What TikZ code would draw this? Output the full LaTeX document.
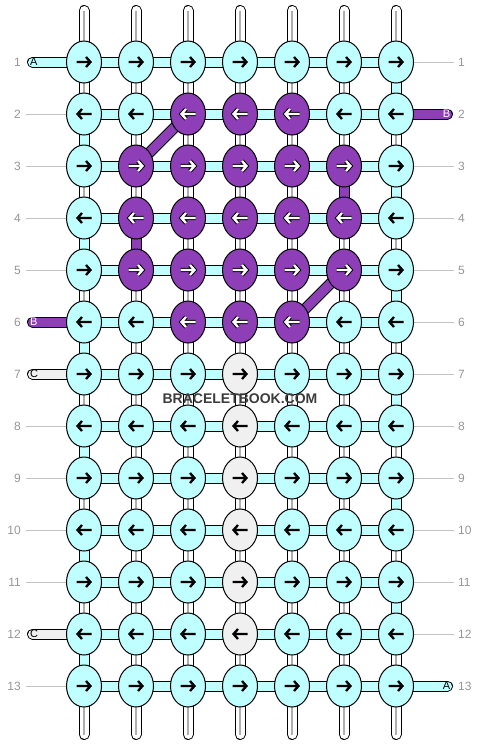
\documentclass[tikz,border=0pt]{standalone}
\usepackage{fontspec}
\setmainfont{Liberation Sans}
\usetikzlibrary{shapes.geometric}
\definecolor{cy}{RGB}{191,255,255}
\definecolor{pu}{RGB}{142,63,184}
\definecolor{lg}{RGB}{240,240,240}
\definecolor{coreg}{RGB}{175,175,175}
\definecolor{guideg}{RGB}{195,195,195}
\definecolor{labg}{RGB}{150,150,150}
\definecolor{wmc}{RGB}{60,60,60}
\pgfdeclarelayer{bg}
\pgfsetlayers{bg,main}
\begin{document}
\begin{tikzpicture}[x=1pt,y=-1pt,
  knot/.style={ellipse, draw=black, line width=1pt, minimum width=35pt, minimum height=42pt, inner sep=0pt},
  band/.style={draw=black, line width=1pt, double=#1, double distance=9pt},
  core/.style={draw=coreg, line width=1.2pt},
  guide/.style={draw=guideg, line width=1pt},
  rowlab/.style={text=labg, font=\fontsize{12}{12}\selectfont, inner sep=0pt},
  stublab/.style={font=\fontsize{11}{11}\selectfont, inner sep=0pt},
  arr/.style={line width=2.3pt, line join=miter}
]
\useasboundingbox (0,0) rectangle (480,748);

% knots and arrows
\foreach \r in {1,...,13}{
 \foreach \c in {1,...,7}{
  \pgfmathtruncatemacro\isp{((\r==2||\r==6)&&\c>2&&\c<6)||(\r>2&&\r<6&&\c>1&&\c<7)}
  \pgfmathtruncatemacro\isg{(\r>6&&\r<13&&\c==4)}
  \ifnum\isp=1 \def\kc{pu}\else\ifnum\isg=1 \def\kc{lg}\else\def\kc{cy}\fi\fi
  \node[knot, fill=\kc] (k-\r-\c) at ({84+52*(\c-1)},{62+52*(\r-1)}) {};
  \pgfmathtruncatemacro\dir{mod(\r,2)==1 ? 1 : -1}
  \begin{scope}[shift={(k-\r-\c.center)}, xscale=\dir]
   \ifnum\isp=1
     \draw[arr, line width=4.3pt, black] (-7.5,0) -- (6.5,0) (2,-5) -- (6.5,0) -- (2,5);
     \draw[arr, white] (-7.5,0) -- (6.5,0) (2,-5) -- (6.5,0) -- (2,5);
   \else
     \draw[arr, black] (-7.5,0) -- (6.5,0) (2,-5) -- (6.5,0) -- (2,5);
   \fi
  \end{scope}
 }
}

\begin{pgfonlayer}{bg}
% top and bottom strands
\foreach \c in {1,...,7}{
 \coordinate (t-\c) at ({84+52*(\c-1)},10.5);
 \coordinate (b-\c) at ({84+52*(\c-1)},734.5);
 \draw[band=white, line cap=round] (t-\c) -- (k-1-\c.center);
 \draw[core] (t-\c) -- (k-1-\c.center);
 \draw[band=white, line cap=round] (b-\c) -- (k-13-\c.center);
 \draw[core] (b-\c) -- (k-13-\c.center);
}
% verticals between knots
\foreach \r in {1,...,12}{
 \foreach \c in {1,...,7}{
  \pgfmathtruncatemacro\rn{\r+1}
  \pgfmathtruncatemacro\isc{(\c==7&&mod(\r,2)==1)||(\c==1&&mod(\r,2)==0)}
  \pgfmathtruncatemacro\isp{(\c==6&&\r==3)||(\c==2&&\r==4)}
  \ifnum\isc=1
    \draw[band=cy] (k-\r-\c.center) -- (k-\rn-\c.center);
  \else\ifnum\isp=1
    \draw[band=pu] (k-\r-\c.center) -- (k-\rn-\c.center);
  \else
    \draw[band=white] (k-\r-\c.center) -- (k-\rn-\c.center);
    \draw[core] (k-\r-\c.center) -- (k-\rn-\c.center);
  \fi\fi
 }
}
% horizontals
\foreach \r in {1,...,13}{
 \foreach \c in {1,...,6}{
  \pgfmathtruncatemacro\cn{\c+1}
  \draw[band=cy] (k-\r-\c.center) -- (k-\r-\cn.center);
 }
}
% diagonals
\draw[band=pu] (k-3-2.center) -- (k-2-3.center);
\draw[band=pu] (k-6-5.center) -- (k-5-6.center);
% left stubs
\foreach \r/\scol/\lab/\labcol in {1/cy/A/black, 6/pu/B/white, 7/lg/C/black, 12/lg/C/black}{
 \coordinate (sl-\r) at (32.5,{62+52*(\r-1)});
 \draw[band=\scol, line cap=round] (sl-\r) -- (k-\r-1.center);
 \node[stublab, text=\labcol, anchor=west] (sll-\r) at (30,{62+52*(\r-1)}) {\lab};
}
% right stubs
\foreach \r/\scol/\lab/\labcol in {2/pu/B/white, 13/cy/A/black}{
 \coordinate (sr-\r) at (447.5,{62+52*(\r-1)});
 \draw[band=\scol, line cap=round] (sr-\r) -- (k-\r-7.center);
 \node[stublab, text=\labcol, anchor=east] (srl-\r) at (450.5,{62+52*(\r-1)}) {\lab};
}
% guide lines
\foreach \r in {2,3,4,5,8,9,10,11,13}{
 \coordinate (gl-\r) at (26,{62+52*(\r-1)});
 \draw[guide] (gl-\r) -- (k-\r-1.west);
}
\foreach \r in {1,3,4,5,6,7,8,9,10,11,12}{
 \coordinate (gr-\r) at (454,{62+52*(\r-1)});
 \draw[guide] (gr-\r) -- (k-\r-7.east);
}
% row labels
\foreach \r in {1,...,13}{
 \node[rowlab, anchor=east] (ll-\r) at (21,{62+52*(\r-1)}) {\r};
 \node[rowlab, anchor=west] (rl-\r) at (458,{62+52*(\r-1)}) {\r};
}
\end{pgfonlayer}

% watermark
\node[font=\bfseries\fontsize{14}{14}\selectfont, text=wmc, inner sep=0pt] (wm) at (240,399) {BRACELETBOOK.COM};
\end{tikzpicture}
\end{document}
